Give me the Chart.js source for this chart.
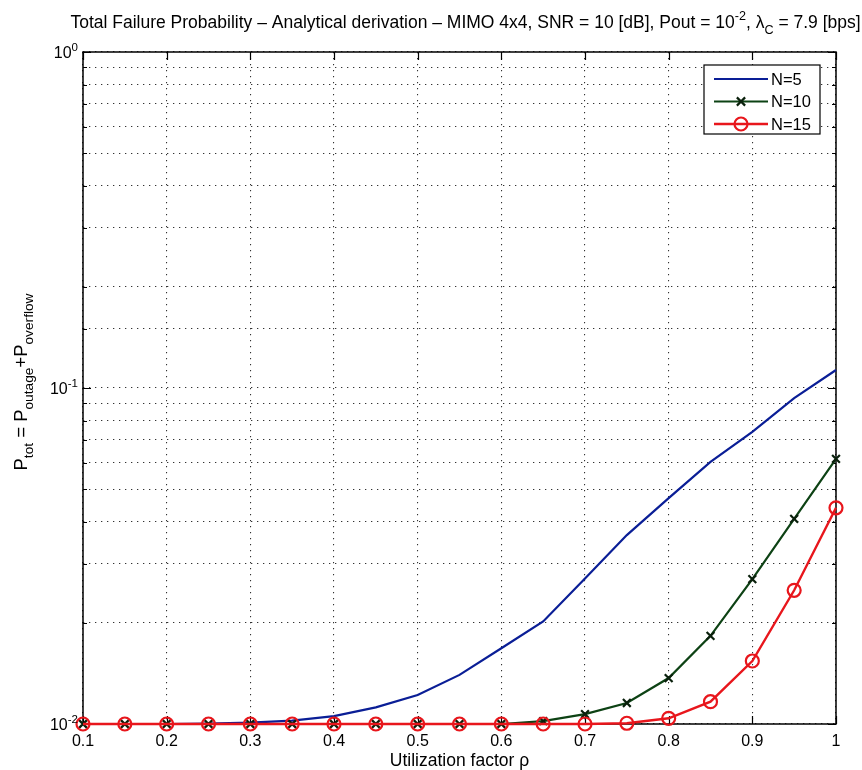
<!DOCTYPE html>
<html>
<head>
<meta charset="utf-8">
<script src="https://cdn.jsdelivr.net/npm/chart.js@4.4.0/dist/chart.umd.min.js"></script>
<style>
  html, body { margin: 0; padding: 0; background: #fff; }
</style>
</head>
<body>
<canvas id="canvas" width="862" height="770"></canvas>
<script>
// utilization factor rho (x values)
const rho = [0.1, 0.15, 0.2, 0.25, 0.3, 0.35, 0.4, 0.45, 0.5, 0.55,
             0.6, 0.65, 0.7, 0.75, 0.8, 0.85, 0.9, 0.95, 1.0];

const seriesLabels = ["N=5", "N=10", "N=15"];

// P_tot
const pN5 = [0.0100, 0.0100, 0.0100, 0.01003, 0.01009, 0.01023, 0.01056, 0.01121, 0.0122, 0.0140,
             0.0168, 0.0202, 0.0271, 0.0365, 0.0470, 0.0603, 0.0740, 0.0933, 0.1131];
const pN10 = [0.0100, 0.0100, 0.0100, 0.0100, 0.0100, 0.0100, 0.0100, 0.0100, 0.0100, 0.0100,
              0.0100, 0.0102, 0.0107, 0.01155, 0.0137, 0.0183, 0.0270, 0.0408, 0.0615];
const pN15 = [0.0100, 0.0100, 0.0100, 0.0100, 0.0100, 0.0100, 0.0100, 0.0100, 0.0100, 0.0100,
              0.0100, 0.0100, 0.0100, 0.01005, 0.0104, 0.01165, 0.0154, 0.0250, 0.0440];

const xTicks = [0.1, 0.2, 0.3, 0.4, 0.5, 0.6, 0.7, 0.8, 0.9, 1];
const yDecades = [0.01, 0.1, 1];
const yDecadeExp = ["-2", "-1", "0"];

const FONT = '"Liberation Sans", Arial, Helvetica, sans-serif';

// draws a run of text pieces, each {t, sub, sup}, starting at x
function drawPieces(ctx, pieces, x, y, size, ratio) {
  let cx = x;
  for (const p of pieces) {
    const s = p.sub || p.sup ? size * ratio : size;
    ctx.font = s + "px " + FONT;
    let dy = 0;
    if (p.sub) dy = size * 0.32;
    if (p.sup) dy = -size * 0.45;
    ctx.fillText(p.t, cx, y + dy);
    cx += ctx.measureText(p.t).width;
  }
  return cx - x;
}
function piecesWidth(ctx, pieces, size, ratio) {
  let w = 0;
  for (const p of pieces) {
    const s = p.sub || p.sup ? size * ratio : size;
    ctx.font = s + "px " + FONT;
    w += ctx.measureText(p.t).width;
  }
  return w;
}

const titlePieces = [
  { t: "Total Failure Probability \u2013 Analytical derivation \u2013 MIMO 4x4, SNR = 10 [dB], Pout = 10" },
  { t: "-2", sup: true },
  { t: ", \u03bb" },
  { t: "C", sub: true },
  { t: " = 7.9 [bps]" },
];
const yLabelPieces = [
  { t: "P" }, { t: "tot", sub: true },
  { t: " = P" }, { t: "outage", sub: true },
  { t: "+P" }, { t: "overflow", sub: true },
];

const matlabFrame = {
  id: "matlabFrame",
  beforeDatasetsDraw(chart) {
    const { ctx, chartArea: { top, left, bottom, right }, scales: { x, y } } = chart;
    ctx.save();
    ctx.strokeStyle = "#000";
    ctx.lineWidth = 1.5;
    ctx.strokeRect(left, top, right - left, bottom - top);

    // inward tick marks
    ctx.lineWidth = 1.2;
    ctx.beginPath();
    for (const v of xTicks) {
      const px = Math.round(x.getPixelForValue(v)) + 0.5;
      ctx.moveTo(px, bottom); ctx.lineTo(px, bottom - 8);
      ctx.moveTo(px, top); ctx.lineTo(px, top + 8);
    }
    for (const t of y.ticks) {
      const py = Math.round(y.getPixelForValue(t.value)) + 0.5;
      const len = yDecades.some(d => Math.abs(d - t.value) < 1e-9) ? 8 : 4;
      ctx.moveTo(left, py); ctx.lineTo(left + len, py);
      ctx.moveTo(right, py); ctx.lineTo(right - len, py);
    }
    ctx.stroke();
    ctx.restore();
  },
  afterDraw(chart) {
    const { ctx, chartArea: { top, left, bottom, right }, scales: { y } } = chart;
    ctx.save();
    ctx.fillStyle = "#000";
    ctx.textBaseline = "alphabetic";
    ctx.textAlign = "left";

    // y tick labels 10^n
    yDecades.forEach((d, i) => {
      const py = y.getPixelForValue(d);
      const supPieces = [{ t: "10" }, { t: yDecadeExp[i], sup: true }];
      const w = piecesWidth(ctx, supPieces, 16, 0.72);
      drawPieces(ctx, supPieces, 78 - w, py + 6, 16, 0.72);
    });

    // title
    const tw = piecesWidth(ctx, titlePieces, 17.5, 0.72);
    drawPieces(ctx, titlePieces, (left + right) / 2 - tw / 2 + 6, 28, 17.5, 0.72);

    // y axis label, rotated
    ctx.save();
    ctx.translate(27, (top + bottom) / 2 - 6);
    ctx.rotate(-Math.PI / 2);
    const lw = piecesWidth(ctx, yLabelPieces, 18.5, 0.74);
    drawPieces(ctx, yLabelPieces, -lw / 2, 0, 18.5, 0.74);
    ctx.restore();

    // legend box
    const bx = 704, by = 65, bw = 116, bh = 69;
    ctx.fillStyle = "#fff";
    ctx.fillRect(bx, by, bw, bh);
    ctx.strokeStyle = "#000";
    ctx.lineWidth = 1.2;
    ctx.strokeRect(bx, by, bw, bh);
    chart.data.datasets.forEach((ds, i) => {
      const ry = by + 14 + i * 22.5;
      const mx = bx + 37;
      ctx.strokeStyle = ds.borderColor;
      ctx.lineWidth = ds.borderWidth;
      ctx.beginPath();
      ctx.moveTo(bx + 10, ry);
      ctx.lineTo(bx + 64, ry);
      ctx.stroke();
      if (ds.pointRadius > 0) {
        ctx.strokeStyle = ds.pointBorderColor;
        ctx.lineWidth = ds.pointBorderWidth;
        ctx.beginPath();
        const r = ds.pointRadius;
        if (ds.pointStyle === "circle") {
          ctx.arc(mx, ry, r, 0, Math.PI * 2);
        } else {
          const h = r * 0.75;
          ctx.moveTo(mx - h, ry - h); ctx.lineTo(mx + h, ry + h);
          ctx.moveTo(mx - h, ry + h); ctx.lineTo(mx + h, ry - h);
        }
        ctx.stroke();
      }
      ctx.fillStyle = "#000";
      ctx.font = "16.5px " + FONT;
      ctx.textBaseline = "middle";
      ctx.fillText(ds.label, bx + 67, ry + 1);
      ctx.textBaseline = "alphabetic";
    });
    ctx.restore();
  },
};

const toPoints = (vals) => rho.map((r, i) => ({ x: r, y: vals[i] }));

new Chart(document.getElementById("canvas").getContext("2d"), {
  type: "line",
  data: {
    datasets: [
      {
        label: seriesLabels[0],
        data: toPoints(pN5),
        borderColor: "#0a1e96",
        borderWidth: 2.2,
        pointRadius: 0,
        pointStyle: "line",
        pointBorderColor: "#0a1e96",
        pointBackgroundColor: "#0a1e96",
        pointBorderWidth: 0,
        order: 2,
      },
      {
        label: seriesLabels[1],
        data: toPoints(pN10),
        borderColor: "#0d4214",
        borderWidth: 2.2,
        pointStyle: "crossRot",
        pointRadius: 5.5,
        pointBorderColor: "#0a200c",
        pointBackgroundColor: "#0a200c",
        pointBorderWidth: 2.2,
        order: 1,
      },
      {
        label: seriesLabels[2],
        data: toPoints(pN15),
        borderColor: "#e8161c",
        borderWidth: 2.4,
        pointStyle: "circle",
        pointRadius: 6.5,
        pointBorderColor: "#e8161c",
        pointBackgroundColor: "rgba(255,255,255,0)",
        pointBorderWidth: 2.2,
        order: 0,
      },
    ],
  },
  options: {
    responsive: false,
    animation: false,
    layout: { padding: { left: 0, right: 26, top: 52, bottom: 0 } },
    elements: { line: { tension: 0 } },
    datasets: { line: { clip: false } },
    plugins: {
      legend: { display: false },
      title: { display: false },
      tooltip: { enabled: false },
    },
    scales: {
      x: {
        type: "linear",
        min: 0.1,
        max: 1,
        afterBuildTicks(scale) {
          scale.ticks = xTicks.map(v => ({ value: v }));
        },
        afterFit(scale) { scale.height = 46; },
        grid: { color: "#333", lineWidth: 1.1, drawTicks: false },
        border: { display: false, dash: [1.3, 4.7] },
        ticks: {
          color: "#000",
          font: { family: FONT, size: 16 },
          padding: 8,
          maxRotation: 0,
          autoSkip: false,
          callback: (v) => String(Math.round(v * 10) / 10),
        },
        title: {
          display: true,
          text: "Utilization factor \u03c1",
          color: "#000",
          font: { family: FONT, size: 17.5, lineHeight: 1 },
          padding: { top: 0, bottom: 0 },
        },
      },
      y: {
        type: "logarithmic",
        min: 0.01,
        max: 1,
        afterFit(scale) { scale.width = 83; },
        grid: { color: "#333", lineWidth: 1.1, drawTicks: false },
        border: { display: false, dash: [1.3, 4.7] },
        ticks: { display: false, autoSkip: false },
      },
    },
  },
  plugins: [matlabFrame],
});
</script>
</body>
</html>
